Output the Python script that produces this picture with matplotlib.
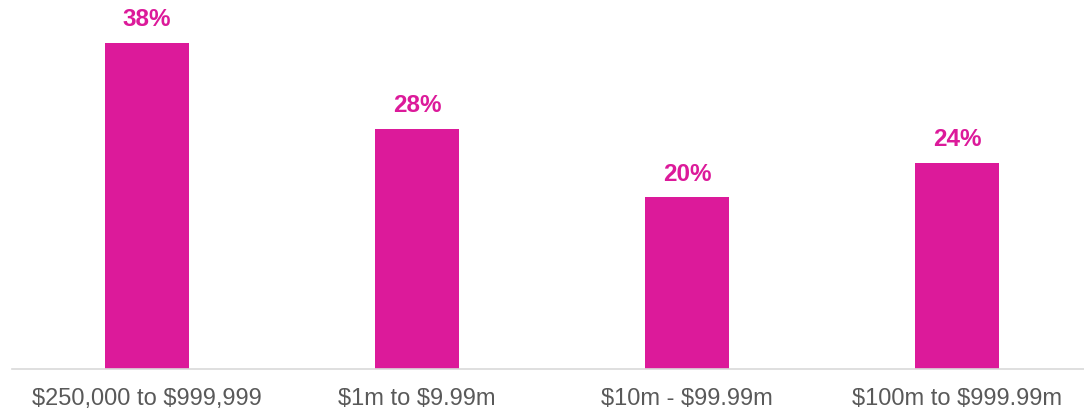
import matplotlib.pyplot as plt

categories = ["$250,000 to $999,999", "$1m to $9.99m", "$10m - $99.99m", "$100m to $999.99m"]
values = [38, 28, 20, 24]
labels = ["38%", "28%", "20%", "24%"]

plt.rcParams["text.parse_math"] = False
plt.rcParams["font.family"] = ["Liberation Sans", "DejaVu Sans"]

fig = plt.figure(figsize=(10.84, 4.11), dpi=100)
ax = fig.add_axes([12 / 1084, 42 / 411, 1072 / 1084, 369 / 411])

x = range(len(values))
bars = ax.bar(x, values, width=0.311, color="#DC1A9A")
for b, lab in zip(bars, labels):
    ax.annotate(lab, (b.get_x() + b.get_width() / 2, b.get_height()),
                xytext=(0, 8.5), textcoords="offset points", ha="center", va="bottom",
                fontsize=17.5, fontweight="bold", color="#DC1A9A")

ax.set_xlim(-0.5, -0.5 + 1072 / 270)
ax.set_ylim(0, 43.03)
ax.set_xticks(list(x))
ax.set_xticklabels(categories, fontsize=17, color="#595959")
ax.tick_params(axis="x", length=0, pad=14)
ax.set_yticks([])
for s in ["top", "right", "left"]:
    ax.spines[s].set_visible(False)
ax.spines["bottom"].set_color("#D9D9D9")
ax.spines["bottom"].set_linewidth(1.2)

fig.savefig("out.png", dpi=100)
